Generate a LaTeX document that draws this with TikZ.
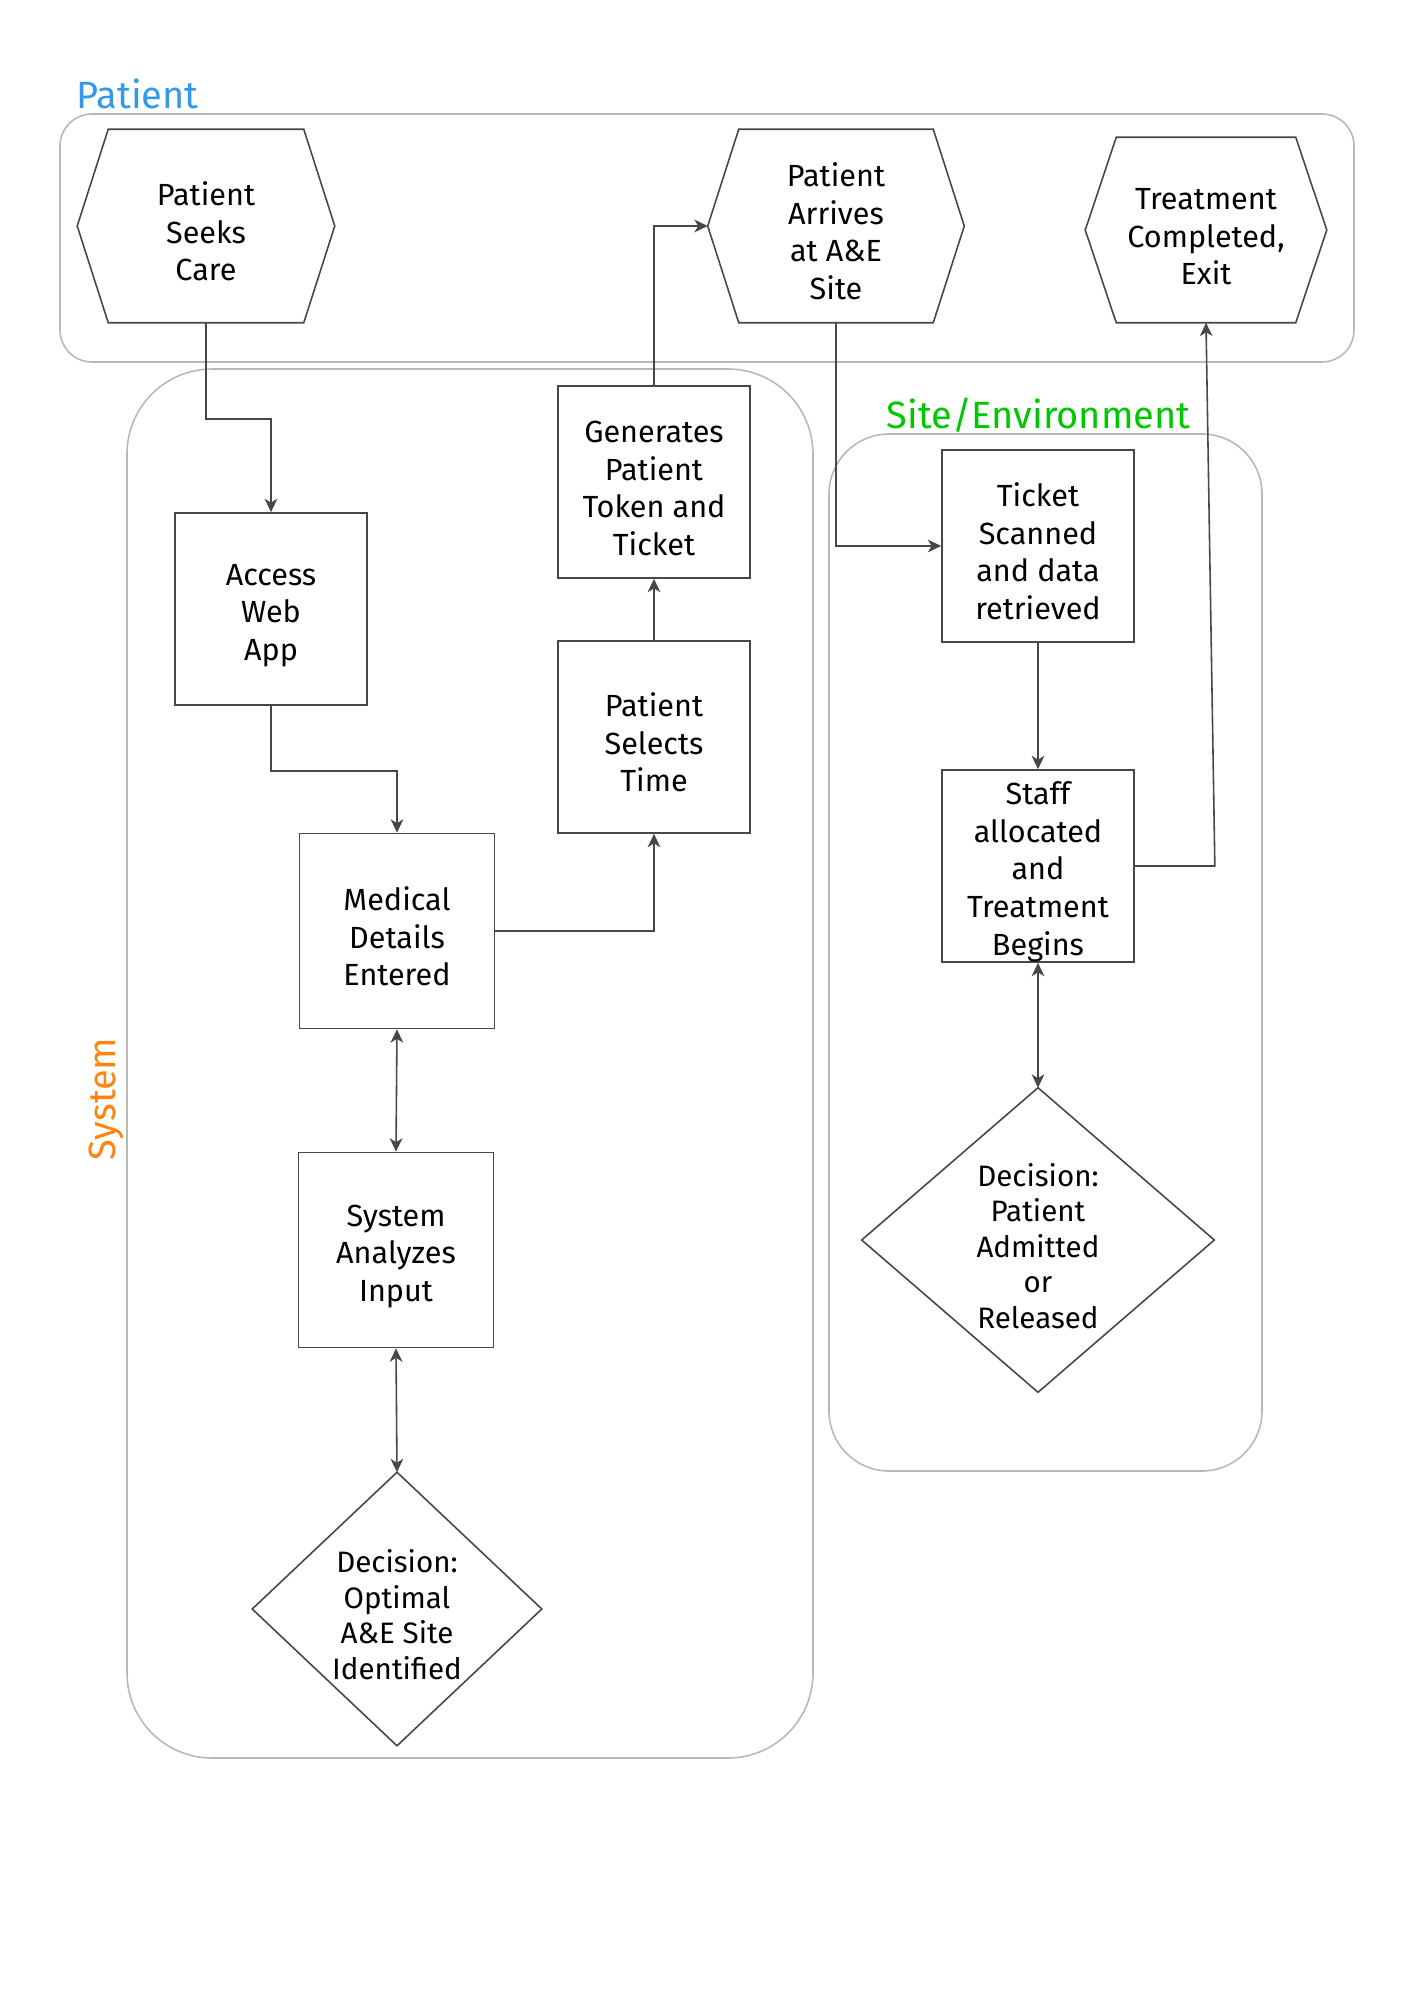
\documentclass[tikz,border=0pt]{standalone}
\usepackage{fontspec}
\setmainfont{Fira Sans}
\usepackage{tikz}
\usetikzlibrary{arrows.meta,positioning}

\definecolor{linegray}{HTML}{474747}
\definecolor{groupgray}{HTML}{B8B8B8}
\definecolor{patientblue}{HTML}{3399EE}
\definecolor{sitegreen}{HTML}{00C800}
\definecolor{systemorange}{HTML}{FF8410}

% hexagon and diamond outlines round a named node
\newcommand{\drawhex}[1]{\draw[shape_line] (#1.west) -- ([xshift=3.1mm]#1.north west) -- ([xshift=-3.1mm]#1.north east) -- (#1.east) -- ([xshift=-3.1mm]#1.south east) -- ([xshift=3.1mm]#1.south west) -- cycle;}
\newcommand{\drawdiam}[1]{\draw[shape_line] (#1.north) -- (#1.east) -- (#1.south) -- (#1.west) -- cycle;}
% taller first line, so the text sits a little lower
\newcommand{\tstr}{\rule{0pt}{9.8pt}}

\begin{document}
\begin{tikzpicture}[x=0.01cm,y=-0.01cm,
	>={Stealth[length=3.8pt,width=3.6pt,inset=1.1pt]},
	shape_line/.style={draw=linegray,line width=0.45pt},
	box_text/.style={inner sep=0pt,align=center,font=\fontsize{8.7}{10.7}\selectfont},
	box_node/.style={box_text,shape_line,rectangle,minimum width=1.92cm,minimum height=1.92cm},
	hex_node/.style={box_text,rectangle,minimum width=2.56cm,minimum height=1.92cm},
	dec_node/.style={rectangle,inner sep=0pt,align=center,font=\fontsize{8.4}{10.1}\selectfont},
	group_box/.style={draw=groupgray,line width=0.45pt},
	group_label/.style={inner sep=0pt,font=\fontsize{10.8}{13}\selectfont},
	flow_line/.style={draw=linegray,line width=0.45pt,->}]
	\useasboundingbox (0,0) rectangle (1414,2000);

	% groups
	\draw[group_box,rounded corners=0.32cm] (60,114) rectangle (1354,362);
	\draw[group_box,rounded corners=0.85cm] (127,369) rectangle (813,1758);
	\draw[group_box,rounded corners=0.6cm] (829,434) rectangle (1262,1471);
	\node[group_label,anchor=base west,text=patientblue] (patient_label) at (76,109) {Patient};
	\node[group_label,anchor=base west,text=sitegreen] (site_label) at (886,428) {Site/Environment};
	\node[group_label,rotate=90,anchor=base,text=systemorange] (system_label) at (115,1099) {System};

	% patient lane
	\node[hex_node] (seek) at (206,226) {\tstr Patient\\Seeks\\Care};
	\node[hex_node,minimum width=2.55cm] (arrive) at (836,226) {\tstr Patient\\Arrives\\at A\&E\\Site};
	\node[hex_node,minimum width=2.40cm,minimum height=1.84cm] (exit) at (1206,230) {\tstr Treatment\\Completed,\\Exit};
	\drawhex{seek}
	\drawhex{arrive}
	\drawhex{exit}

	% system lane
	\node[box_node] (web) at (271,609) {\tstr Access\\Web\\App};
	\node[box_node] (token) at (654,482) {\tstr Generates\\Patient\\Token and\\Ticket};
	\node[box_node] (time) at (654,737) {\tstr Patient\\Selects\\Time};
	\node[box_node,minimum width=1.95cm,minimum height=1.95cm] (med) at (397,931) {\tstr Medical\\Details\\Entered};
	\node[box_node,minimum width=1.95cm,minimum height=1.95cm] (analyze) at (396,1250) {\tstr System\\Analyzes\\Input};
	\node[dec_node,minimum width=2.88cm,minimum height=2.72cm] (optimal) at (397,1609) {\tstr Decision:\\Optimal\\A\&E Site\\Identified};
	\drawdiam{optimal}

	% site lane
	\node[box_node] (ticket) at (1038,546) {\tstr Ticket\\Scanned\\and data\\retrieved};
	\node[box_node] (staff) at (1038,866) {\tstr Staff\\allocated\\and\\Treatment\\Begins};
	\node[dec_node,minimum width=3.51cm,minimum height=3.03cm] (admit) at (1038,1240) {\tstr Decision:\\Patient\\Admitted\\or\\Released};
	\drawdiam{admit}

	% connectors
	\draw[flow_line] (seek.south) -- ++(0,96) -| (web.north);
	\draw[flow_line] (web.south) -- ++(0,65) -| (med.north);
	\draw[flow_line] (med.east) -| (time.south);
	\draw[flow_line] (time.north) -- (token.south);
	\draw[flow_line] (token.north) |- (arrive.west);
	\draw[flow_line] (arrive.south) |- (ticket.west);
	\draw[flow_line] (ticket.south) -- (staff.north);
	\draw[flow_line] (staff.east) -- ++(80,0) -- (exit.south);
	\draw[flow_line,<->] (staff.south) -- (admit.north);
	\draw[flow_line,<->] (med.south) -- (analyze.north);
	\draw[flow_line,<->] (analyze.south) -- (optimal.north);
\end{tikzpicture}
\end{document}
